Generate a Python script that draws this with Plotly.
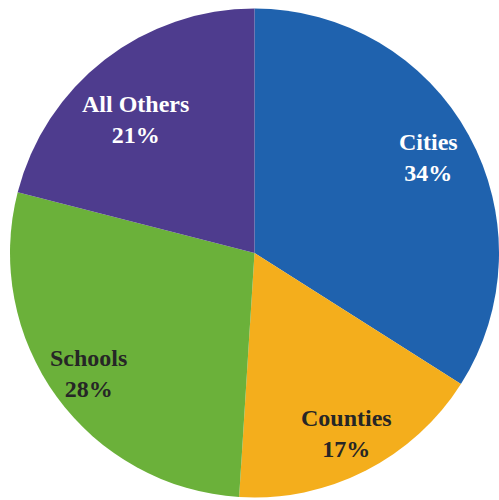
import math
import plotly.graph_objects as go

categories = ["Cities", "Counties", "Schools", "All Others"]
shares = [34, 17, 28, 21]
colors = ["#1F62AE", "#F4AE1C", "#6BB13A", "#4E3C8E"]
text_colors = ["#FFFFFF", "#262626", "#262626", "#FFFFFF"]
label_radius = [0.81, 0.83, 0.84, 0.73]
label_angle_shift = [0, 0, 0, -4]

W, H = 499, 500
ML, MR, MT, MB = 10, 0, 8, 2
pw, ph = W - ML - MR, H - MT - MB
R = min(pw, ph) / 2

fig = go.Figure(go.Pie(
    labels=categories, values=shares, sort=False, direction="clockwise",
    rotation=0, marker=dict(colors=colors, line=dict(width=0)),
    textinfo="none", hoverinfo="label+percent", showlegend=False,
))

total = sum(shares)
cum = 0
for cat, v, tc, f, sh in zip(categories, shares, text_colors, label_radius, label_angle_shift):
    mid = (cum + v / 2) / total * 2 * math.pi + math.radians(sh)
    cum += v
    dx = f * R * math.sin(mid)
    dy = f * R * math.cos(mid)
    x = 0.5 + dx / pw
    y = 0.5 + dy / ph
    fig.add_annotation(
        x=x, y=y, xref="paper", yref="paper", showarrow=False,
        xanchor="center", yanchor="middle",
        text=f"<b>{cat}<br>{round(v / total * 100)}%</b>",
        font=dict(family="Liberation Serif, Times New Roman, serif", size=24, color=tc),
        align="center",
    )

fig.update_layout(
    width=W, height=H, margin=dict(l=ML, r=MR, t=MT, b=MB),
    paper_bgcolor="white", plot_bgcolor="white",
)
fig.write_html("out.html")
